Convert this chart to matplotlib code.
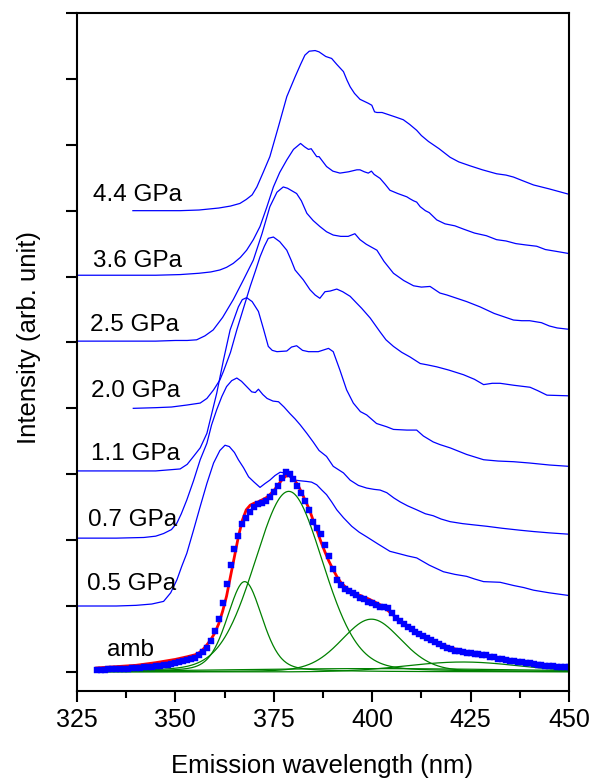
import matplotlib
matplotlib.use('Agg')
import matplotlib.pyplot as plt
import numpy as np
from matplotlib.ticker import MultipleLocator

plt.rcParams['font.family'] = ['Liberation Sans', 'DejaVu Sans']

# ---------------- data ----------------
wl_44 = [339.2, 345, 351.2, 356, 361, 364, 366.4, 368, 369.5, 370.7, 372.3, 374.0, 376.2, 378.3, 380.4, 381.8,
         382.9, 384, 385.5, 386.5, 388.2, 389.7, 391, 392.7, 393.6, 394.4, 395.5, 396.9, 399.0, 399.9, 400.6,
         401.2, 402.5, 404.5, 406, 407.9, 409.5, 411.3, 412.5, 414.3, 417, 419.8, 422, 424.9, 428, 431.6, 434,
         435.9, 438, 441.0, 445, 449.9]
int_44 = [7.0, 7.0, 7.0, 7.01, 7.04, 7.07, 7.11, 7.17, 7.24, 7.36, 7.58, 7.82, 8.28, 8.73, 9.03, 9.22,
          9.36, 9.42, 9.43, 9.41, 9.34, 9.31, 9.22, 9.11, 8.98, 8.88, 8.78, 8.69, 8.63, 8.60, 8.50,
          8.49, 8.49, 8.45, 8.42, 8.38, 8.31, 8.22, 8.14, 8.05, 7.94, 7.81, 7.74, 7.68, 7.62, 7.56, 7.54,
          7.51, 7.46, 7.39, 7.33, 7.25]

wl_36 = [325, 335, 345, 351.2, 356, 359, 361.3, 363, 364.7, 366.5, 368.1, 369.8, 371.5, 373.2, 374.9, 376.5,
         378.3, 380, 381.8, 382.8, 383.8, 384.5, 385.9, 386.5, 388.4, 390, 391.8, 394, 396.1, 396.9, 398, 399,
         399.8, 400.5, 402.0, 403.3, 404.5, 406.5, 408.8, 409.6, 410.5, 411.3, 412.2, 413.5, 414.5, 416.4,
         418.5, 421, 423.2, 426, 429, 431.6, 434, 436.5, 439, 441.8, 444, 447, 449.9]
int_36 = [6.02, 6.02, 6.02, 6.03, 6.05, 6.07, 6.10, 6.14, 6.20, 6.29, 6.40, 6.56, 6.76, 7.05, 7.36, 7.58,
          7.77, 7.93, 8.02, 7.97, 7.93, 7.94, 7.82, 7.82, 7.67, 7.60, 7.57, 7.59, 7.62, 7.62, 7.59, 7.57,
          7.60, 7.55, 7.49, 7.40, 7.31, 7.26, 7.21, 7.18, 7.15, 7.13, 7.06, 7.00, 6.97, 6.86,
          6.80, 6.77, 6.72, 6.66, 6.62, 6.56, 6.54, 6.50, 6.48, 6.46, 6.41, 6.38, 6.35]

wl_25 = [325, 335, 345, 350, 353, 355.4, 357.5, 359.6, 362, 364.7, 367.2, 369.8, 372, 374.0, 375.8, 377.4,
         378.5, 380.8, 382, 383.4, 385, 386.7, 388.4, 390.1, 392, 393.9, 395.6, 396.9, 398.5, 401.2, 403,
         405.4, 408, 410.5, 412.5, 414.7, 417.2, 419, 421.5, 424, 427.4, 431, 435.9, 438, 440, 443, 445,
         447, 449.9]
int_25 = [5.02, 5.02, 5.02, 5.03, 5.03, 5.04, 5.10, 5.19, 5.38, 5.65, 5.94, 6.25, 6.65, 7.06, 7.28, 7.36,
          7.34, 7.26, 7.15, 6.96, 6.85, 6.76, 6.68, 6.63, 6.61, 6.61, 6.65, 6.56, 6.49, 6.40, 6.23,
          6.05, 5.94, 5.86, 5.84, 5.85, 5.75, 5.72, 5.67, 5.62, 5.54, 5.44, 5.34, 5.33, 5.33, 5.30, 5.25,
          5.22, 5.20]

wl_20 = [339.3, 345, 349, 352.9, 356.3, 358.0, 359.7, 361.3, 362.2, 364, 365.6, 367.3, 369.0, 370.3, 371.5,
         372.6, 373.6, 374.9, 376.5, 378.3, 379.4, 380.4, 382.5, 384.2, 385.5, 386.7, 388.0, 389.3, 391.0,
         392.5, 394.4, 396, 397.3, 399.5, 402.0, 403.5, 405.4, 407.5, 409.6, 412.2, 414, 416.4, 419.5,
         423.2, 426, 428.3, 430.5, 432.5, 436, 440.1, 442, 444.4, 449.9]
int_20 = [4.0, 4.01, 4.02, 4.05, 4.08, 4.15, 4.28, 4.43, 4.56, 4.85, 5.19, 5.52, 5.85, 6.08, 6.30,
          6.46, 6.58, 6.60, 6.53, 6.40, 6.25, 6.10, 5.95, 5.80, 5.72, 5.67, 5.77, 5.78, 5.81,
          5.77, 5.70, 5.60, 5.52, 5.37, 5.16, 5.04, 4.94, 4.85, 4.78, 4.68, 4.66, 4.63, 4.58,
          4.51, 4.44, 4.36, 4.38, 4.38, 4.35, 4.32, 4.27, 4.20, 4.19]

wl_11 = [325, 335, 345, 351.2, 353, 354.6, 356.3, 358.0, 360.5, 362.2, 363.9, 366.0, 367, 368.1, 369.5,
         371.1, 372.4, 373.6, 374.6, 375.8, 378.3, 379.5, 380.8, 382.3, 383.8, 386.3, 388.9, 390.1, 391.8,
         393.5, 395.2, 397, 398.6, 401.1, 403.7, 405.4, 408.8, 411.3, 413, 415.5, 417.2, 419.8, 424, 428.3,
         432, 435.9, 440, 445, 449.9]
int_11 = [3.05, 3.05, 3.05, 3.08, 3.15, 3.27, 3.40, 3.62, 4.23, 4.73, 5.19, 5.54, 5.65, 5.68, 5.62,
          5.47, 5.20, 4.94, 4.88, 4.86, 4.87, 4.93, 4.95, 4.88, 4.86, 4.86, 4.91, 4.86, 4.58,
          4.28, 4.08, 3.95, 3.90, 3.77, 3.72, 3.68, 3.67, 3.67, 3.58, 3.49, 3.45, 3.40, 3.30, 3.22,
          3.20, 3.19, 3.17, 3.14, 3.12]

wl_07 = [325, 335, 342, 345, 347, 349, 350.4, 351.5, 352.9, 354.6, 356.3, 358.0, 359.2, 360.5, 361.8, 363.0,
         364.3, 365.6, 366.8, 368.1, 369.4, 370.3, 371.1, 372.2, 373.3, 374.8, 376.2, 377.6, 379.1, 380.4,
         381.7, 383.4, 385.0, 386.5, 388.4, 390.1, 392.7, 394.4, 396.5, 398.6, 400.5, 402.0, 403.7, 405.5,
         407.1, 409, 411.3, 413.5, 415.5, 417.5, 419.8, 423, 426, 429.1, 433, 437.6, 441, 445, 449.9]
int_07 = [2.03, 2.03, 2.04, 2.06, 2.10, 2.16, 2.26, 2.40, 2.61, 2.90, 3.22, 3.47, 3.75, 3.98, 4.18, 4.33,
          4.42, 4.46, 4.41, 4.33, 4.25, 4.24, 4.29, 4.21, 4.15, 4.11, 4.10, 4.02, 3.92, 3.84,
          3.75, 3.62, 3.49, 3.36, 3.27, 3.12, 3.02, 2.91, 2.83, 2.79, 2.77, 2.76, 2.72, 2.64,
          2.58, 2.52, 2.46, 2.40, 2.37, 2.32, 2.28, 2.25, 2.23, 2.21, 2.18, 2.15, 2.13, 2.11, 2.09]

wl_05 = [325, 335, 340, 344, 347.0, 348.8, 350.4, 351.6, 352.9, 354.6, 356.3, 358.0, 359.7, 361.3, 362.6,
         363.7, 365, 366.0, 367.3, 368.6, 370.0, 371.5, 372.8, 374.0, 375.3, 376.6, 377.8, 379, 380.4,
         381.8, 383.4, 384.6, 385.9, 387.2, 388.4, 389.7, 391.0, 392.7, 394.8, 396.7, 398.6, 401.5, 404.5,
         407.1, 409, 411.3, 414.5, 418.1, 421, 424.0, 426, 428.3, 432.5, 436, 438.5, 441.0, 445, 449.9]
int_05 = [1.0, 1.0, 1.01, 1.03, 1.07, 1.20, 1.40, 1.60, 1.80, 2.15, 2.51, 2.86, 3.17, 3.36, 3.44,
          3.42, 3.33, 3.22, 3.10, 2.96, 2.88, 2.80, 2.86, 2.91, 2.98, 3.03, 3.02, 2.96, 2.91,
          2.90, 2.89, 2.88, 2.84, 2.76, 2.69, 2.58, 2.46, 2.34, 2.21, 2.12, 2.05, 1.94, 1.83,
          1.79, 1.76, 1.73, 1.62, 1.52, 1.48, 1.45, 1.41, 1.37, 1.36, 1.31, 1.28, 1.24, 1.20, 1.16]

# ambient spectrum: measured points
amb_wl = list(range(330, 451))
amb_int = [0.03, 0.03, 0.035, 0.04, 0.04, 0.04, 0.045, 0.05, 0.05, 0.055,
           0.06, 0.065, 0.07, 0.075, 0.08, 0.085, 0.095, 0.10, 0.11, 0.125,
           0.14, 0.15, 0.165, 0.18, 0.195, 0.21, 0.25, 0.30, 0.37, 0.47,
           0.62, 0.81, 1.04, 1.33, 1.62, 1.87, 2.07, 2.24, 2.34, 2.43,
           2.50, 2.55, 2.57, 2.60, 2.66, 2.73, 2.82, 2.95, 3.03, 3.01,
           2.93, 2.82, 2.71, 2.60, 2.45, 2.28, 2.19, 2.09, 1.93, 1.76,
           1.56, 1.40, 1.32, 1.26, 1.23, 1.20, 1.16, 1.12, 1.10, 1.06,
           1.04, 1.01, 0.99, 0.98, 0.97, 0.89, 0.82, 0.77, 0.72, 0.68,
           0.65, 0.61, 0.57, 0.54, 0.51, 0.48, 0.45, 0.42, 0.39, 0.36,
           0.34, 0.32, 0.31, 0.30, 0.29, 0.28, 0.27, 0.265, 0.26, 0.25,
           0.23, 0.22, 0.20, 0.19, 0.18, 0.17, 0.16, 0.155, 0.15, 0.14,
           0.13, 0.12, 0.11, 0.10, 0.095, 0.09, 0.085, 0.08, 0.08, 0.08,
           0.08]

# ambient spectrum: total fit (red)
fit_wl = [330, 335, 340, 345, 350, 353, 355, 356, 357, 358, 359, 360, 361, 362, 363, 364, 365, 366, 367, 368,
          369, 370, 371, 372, 373, 374, 375, 376, 377, 378, 379, 380, 381, 382, 383, 384, 385, 386, 387, 388,
          389, 390, 391, 392, 393, 394, 395, 396, 397, 398, 399, 400, 401, 402, 403, 404, 405, 406, 408, 410,
          412, 414, 416, 418, 420, 422, 424, 426, 428, 430, 433, 436, 440, 444, 447, 450]
fit_int = [0.06, 0.08, 0.10, 0.14, 0.19, 0.23, 0.26, 0.29, 0.34, 0.41, 0.49, 0.59, 0.73, 0.92, 1.15, 1.45,
           1.75, 2.05, 2.30, 2.46, 2.53, 2.56, 2.58, 2.61, 2.64, 2.69, 2.75, 2.83, 2.91, 2.97, 2.98, 2.93,
           2.85, 2.73, 2.60, 2.47, 2.30, 2.14, 1.97, 1.82, 1.68, 1.56, 1.45, 1.36, 1.30, 1.25, 1.21, 1.18,
           1.16, 1.13, 1.11, 1.08, 1.05, 1.02, 0.98, 0.93, 0.88, 0.83, 0.74, 0.65, 0.57, 0.51, 0.46, 0.41,
           0.37, 0.33, 0.30, 0.28, 0.26, 0.24, 0.21, 0.18, 0.14, 0.11, 0.09, 0.08]

# ambient spectrum: fitted peak components (pseudo-Voigt parameters)
comp_center = [367.6, 378.8, 399.8, 423.0, 400.0]
comp_height = [1.37, 2.74, 0.80, 0.15, 0.05]
comp_fwhm = [10.5, 20.5, 18.0, 34.0, 90.0]
comp_eta = [0.3, 0.15, 0.2, 0.0, 0.0]

labels = ['4.4 GPa', '3.6 GPa', '2.5 GPa', '2.0 GPa', '1.1 GPa', '0.7 GPa', '0.5 GPa', 'amb']
label_x = [329.0, 329.0, 328.3, 328.5, 328.5, 327.9, 327.6, 332.7]
label_y = [7.14, 6.15, 5.18, 4.17, 3.21, 2.22, 1.24, 0.24]

# ---------------- figure ----------------
fig = plt.figure(figsize=(5.94, 7.78), dpi=100)
ax = fig.add_axes([77 / 594, 1 - 691 / 778, (569 - 77) / 594, (691 - 13) / 778])

blue = '#0000ff'
for wl, iv in [(wl_44, int_44), (wl_36, int_36), (wl_25, int_25), (wl_20, int_20),
               (wl_11, int_11), (wl_07, int_07), (wl_05, int_05)]:
    ax.plot(wl, iv, color=blue, lw=0.9, solid_joinstyle='round')


def pseudo_voigt(x, c, h, w, eta):
    u = (x - c) / (w / 2.0)
    return h * (eta / (1.0 + u ** 2) + (1.0 - eta) * np.exp(-np.log(2.0) * u ** 2))


xc = np.linspace(330, 450, 601)
for c, h, w, e in zip(comp_center, comp_height, comp_fwhm, comp_eta):
    ax.plot(xc, pseudo_voigt(xc, c, h, w, e), color='#008000', lw=0.9)

ax.plot(fit_wl, fit_int, color='#ff0000', lw=2.0, solid_joinstyle='round')
ax.plot(amb_wl, amb_int, linestyle='none', marker='s', markersize=3.8,
        markerfacecolor=blue, markeredgecolor=blue, markeredgewidth=0.3)

for t, x, y in zip(labels, label_x, label_y):
    ax.text(x, y, t, fontsize=17.5, ha='left', va='baseline', color='black')

ax.set_xlim(325, 450)
ax.set_ylim(-0.29, 10)
ax.xaxis.set_major_locator(MultipleLocator(25))
ax.xaxis.set_minor_locator(MultipleLocator(12.5))
ax.set_yticks(range(0, 11))
ax.set_yticklabels([])

ax.tick_params(axis='both', which='major', direction='out', length=8, width=1.5,
               labelsize=18, pad=4, top=False, right=False, colors='black')
ax.tick_params(axis='both', which='minor', direction='out', length=5, width=1.5,
               top=False, right=False)
for s in ax.spines.values():
    s.set_linewidth(1.5)

fig.text(322.5 / 594, 1 - 772.5 / 778, 'Emission wavelength (nm)', ha='center',
         va='baseline', fontsize=18.5)
fig.text(29 / 594, 1 - 337 / 778, 'Intensity (arb. unit)', rotation=90, ha='center',
         va='center', fontsize=18.5)

fig.savefig('out.png', dpi=100)
